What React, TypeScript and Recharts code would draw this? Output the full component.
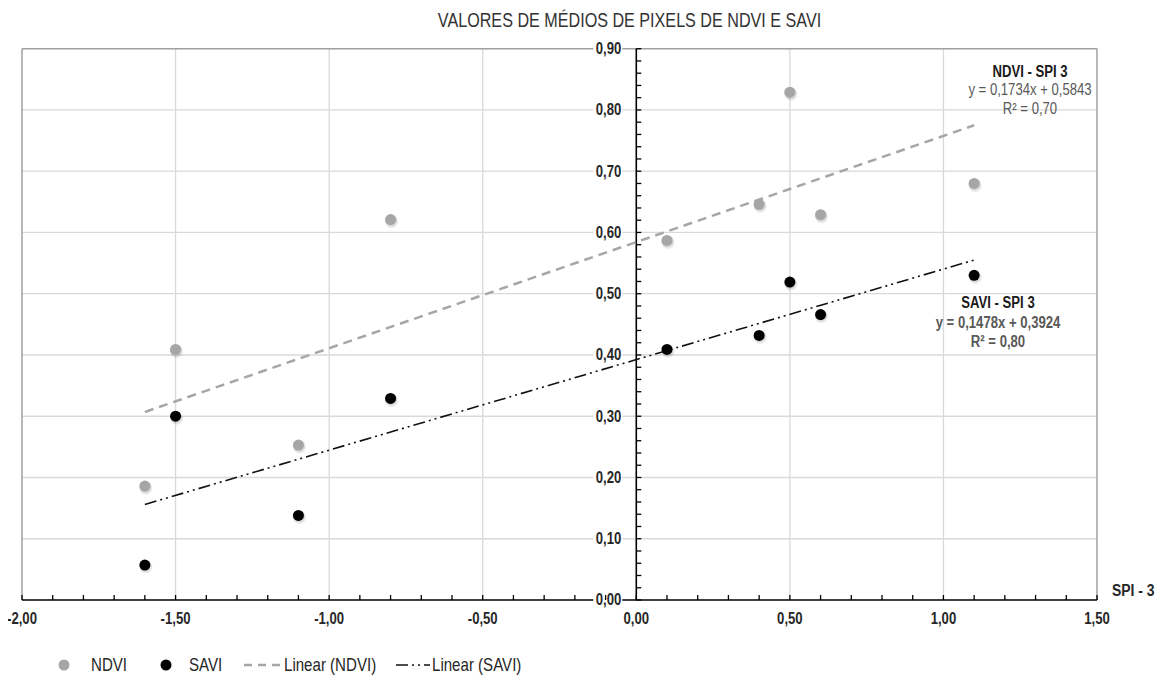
import React from 'react';
import { ScatterChart, Scatter, XAxis, YAxis, ReferenceLine, ReferenceDot } from 'recharts';

const spiValues = [-1.6, -1.5, -1.1, -0.8, 0.1, 0.4, 0.5, 0.6, 1.1];
const ndviValues = [0.186, 0.409, 0.253, 0.621, 0.587, 0.646, 0.829, 0.629, 0.68];
const saviValues = [0.057, 0.3, 0.138, 0.329, 0.409, 0.432, 0.519, 0.466, 0.53];
const trendX = [-1.6, 1.1];
const ndviTrendY = [0.307, 0.775];
const saviTrendY = [0.156, 0.555];

const xMajorTicks = [-2, -1.5, -1, -0.5, 0, 0.5, 1, 1.5];
const xMinorTicks = [
  -2, -1.9, -1.8, -1.7, -1.6, -1.5, -1.4, -1.3, -1.2, -1.1, -1, -0.9, -0.8, -0.7, -0.6, -0.5, -0.4, -0.3,
  -0.2, -0.1, 0, 0.1, 0.2, 0.3, 0.4, 0.5, 0.6, 0.7, 0.8, 0.9, 1, 1.1, 1.2, 1.3, 1.4, 1.5,
];
const yMajorTicks = [0, 0.1, 0.2, 0.3, 0.4, 0.5, 0.6, 0.7, 0.8, 0.9];
const yMinorTicks = [
  0, 0.02, 0.04, 0.06, 0.08, 0.1, 0.12, 0.14, 0.16, 0.18, 0.2, 0.22, 0.24, 0.26, 0.28, 0.3, 0.32, 0.34,
  0.36, 0.38, 0.4, 0.42, 0.44, 0.46, 0.48, 0.5, 0.52, 0.54, 0.56, 0.58, 0.6, 0.62, 0.64, 0.66, 0.68, 0.7,
  0.72, 0.74, 0.76, 0.78, 0.8, 0.82, 0.84, 0.86, 0.88, 0.9,
];

const TITLE = 'VALORES DE MÉDIOS DE PIXELS DE NDVI E SAVI';
const X_TITLE = 'SPI - 3';
const NDVI_LABEL = ['NDVI - SPI 3', 'y = 0,1734x + 0,5843', 'R² = 0,70'];
const SAVI_LABEL = ['SAVI - SPI 3', 'y = 0,1478x + 0,3924', 'R² = 0,80'];
const LEGEND_NAMES = ['NDVI', 'SAVI', 'Linear (NDVI)', 'Linear (SAVI)'];

const ndviData = spiValues.map((x, i) => ({ x, y: ndviValues[i] }));
const saviData = spiValues.map((x, i) => ({ x, y: saviValues[i] }));
const ndviTrend = trendX.map((x, i) => ({ x, y: ndviTrendY[i] }));
const saviTrend = trendX.map((x, i) => ({ x, y: saviTrendY[i] }));

const FONT = '"Liberation Sans", Arial, sans-serif';
const SQUEEZE = 0.82;
const NDVI_COLOR = '#a6a6a6';
const SAVI_COLOR = '#000000';
const GRID = '#d9d9d9';
const BORDER = '#a0a0a0';

const fmt = (v: number) => v.toFixed(2).replace('.', ',').replace('-0,00', '0,00');
const isMult = (v: number, k: number) => Math.abs(v * k - Math.round(v * k)) < 1e-6;

type NTextProps = {
  x: number;
  y: number;
  size: number;
  anchor?: 'start' | 'middle' | 'end';
  bold?: boolean;
  fill?: string;
  children: React.ReactNode;
};

const NText = ({ x, y, size, anchor = 'start', bold = false, fill = '#262626', children }: NTextProps) => (
  <g transform={`translate(${x},${y}) scale(${SQUEEZE},1)`}>
    <text
      x={0}
      y={0}
      textAnchor={anchor}
      dominantBaseline="central"
      fontFamily={FONT}
      fontSize={size}
      fontWeight={bold ? 'bold' : 'normal'}
      fill={fill}
    >
      {children}
    </text>
  </g>
);

const XTick = (props: any) => {
  const { x, y, payload } = props;
  const v = payload.value as number;
  const major = isMult(v, 2);
  return (
    <g>
      <line x1={x} x2={x} y1={y} y2={y - 5} stroke="#000" strokeWidth={1.3} />
      {major && (
        <NText x={x} y={y + 19} size={16} anchor="middle" bold>
          {fmt(v)}
        </NText>
      )}
    </g>
  );
};

const YTick = ({ cx, cy, v }: { cx: number; cy: number; v: number }) => {
  const major = isMult(v, 10);
  return (
    <g>
      <line x1={cx} x2={cx + 5} y1={cy} y2={cy} stroke="#000" strokeWidth={1.3} />
      {major && (
        <g>
          <rect x={cx - 43} y={cy - 8} width={29} height={16} fill="#fff" />
          <NText x={cx - 15} y={cy} size={16} anchor="end" bold>
            {fmt(v)}
          </NText>
        </g>
      )}
    </g>
  );
};

const Dot = (color: string) => (props: any) => {
  const { cx, cy } = props;
  if (cx == null || cy == null) return <g />;
  return (
    <g>
      <circle cx={cx + 1} cy={cy + 2} r={6.5} fill="#000" opacity={0.08} />
      <circle cx={cx + 0.5} cy={cy + 1} r={6} fill="#000" opacity={0.08} />
      <circle cx={cx} cy={cy} r={5.5} fill={color} />
    </g>
  );
};

const Empty = () => <g />;

export default function App() {
  const W = 1147;
  const H = 673;
  return (
    <div style={{ position: 'relative', width: W, height: H, background: '#fff' }}>
      <ScatterChart width={W} height={H} margin={{ top: 40.7, right: 58, bottom: 51, left: 14 }}>
        <XAxis
          type="number"
          dataKey="x"
          domain={[-2, 1.5]}
          ticks={xMinorTicks}
          interval={0}
          tickSize={0}
          tickMargin={0}
          height={30}
          axisLine={{ stroke: '#000', strokeWidth: 1.6 }}
          tickLine={false}
          tick={<XTick />}
        />
        <YAxis type="number" dataKey="y" domain={[0, 0.9]} ticks={yMajorTicks} hide />
        {yMajorTicks
          .filter((v) => v > 0 && v < 0.9)
          .map((v) => (
            <ReferenceLine key={'hy' + v} y={v} stroke={GRID} strokeWidth={1.3} />
          ))}
        {xMajorTicks
          .filter((v) => v > -2 && v < 1.5 && v !== 0)
          .map((v) => (
            <ReferenceLine key={'vx' + v} x={v} stroke={GRID} strokeWidth={1.3} />
          ))}
        <ReferenceLine y={0.9} stroke={BORDER} strokeWidth={1.5} />
        <ReferenceLine x={-2} stroke={BORDER} strokeWidth={1.5} />
        <ReferenceLine x={1.5} stroke={BORDER} strokeWidth={1.5} />
        <Scatter
          data={ndviTrend}
          isAnimationActive={false}
          line={{ stroke: NDVI_COLOR, strokeWidth: 2.5, strokeDasharray: '9 6' }}
          shape={<Empty />}
          legendType="none"
        />
        <Scatter
          data={saviTrend}
          isAnimationActive={false}
          line={{ stroke: '#111', strokeWidth: 1.6, strokeDasharray: '12 4 2 4 2 4' }}
          shape={<Empty />}
          legendType="none"
        />
        <Scatter data={ndviData} isAnimationActive={false} shape={Dot(NDVI_COLOR)} />
        <Scatter data={saviData} isAnimationActive={false} shape={Dot(SAVI_COLOR)} />
        <ReferenceLine x={0} stroke="#000" strokeWidth={1.6} />
        {yMinorTicks.map((v) => (
          <ReferenceDot
            key={'yt' + v}
            x={0}
            y={v}
            r={0}
            shape={(p: any) => <YTick cx={p.cx} cy={p.cy} v={v} />}
          />
        ))}
      </ScatterChart>
      <svg width={W} height={H} style={{ position: 'absolute', left: 0, top: 0, pointerEvents: 'none' }}>
        <NText x={621.5} y={12.5} size={19.7} anchor="middle" fill="#333">
          {TITLE}
        </NText>
        <NText x={1104} y={582} size={17} bold>
          {X_TITLE}
        </NText>
        {NDVI_LABEL.map((t, i) => (
          <NText key={'nl' + i} x={1022} y={[64, 82, 101][i]} size={16} anchor="middle" bold={i === 0} fill={i === 0 ? '#1a1a1a' : '#595959'}>
            {t}
          </NText>
        ))}
        {SAVI_LABEL.map((t, i) => (
          <NText key={'sl' + i} x={990} y={[295, 315, 334][i]} size={16} anchor="middle" bold fill={i === 0 ? '#1a1a1a' : '#595959'}>
            {t}
          </NText>
        ))}
        <circle cx={56} cy={657} r={5.5} fill={NDVI_COLOR} />
        <NText x={83} y={657} size={18.4}>{LEGEND_NAMES[0]}</NText>
        <circle cx={158} cy={657} r={5.5} fill={SAVI_COLOR} />
        <NText x={181} y={657} size={18.4}>{LEGEND_NAMES[1]}</NText>
        <line x1={236} x2={274} y1={657} y2={657} stroke={NDVI_COLOR} strokeWidth={2.5} strokeDasharray="8 6" />
        <NText x={276} y={657} size={18.4}>{LEGEND_NAMES[2]}</NText>
        <line x1={388} x2={422} y1={657} y2={657} stroke="#111" strokeWidth={1.6} strokeDasharray="12 4 2 4 2 4" />
        <NText x={424} y={657} size={18.4}>{LEGEND_NAMES[3]}</NText>
      </svg>
    </div>
  );
}
